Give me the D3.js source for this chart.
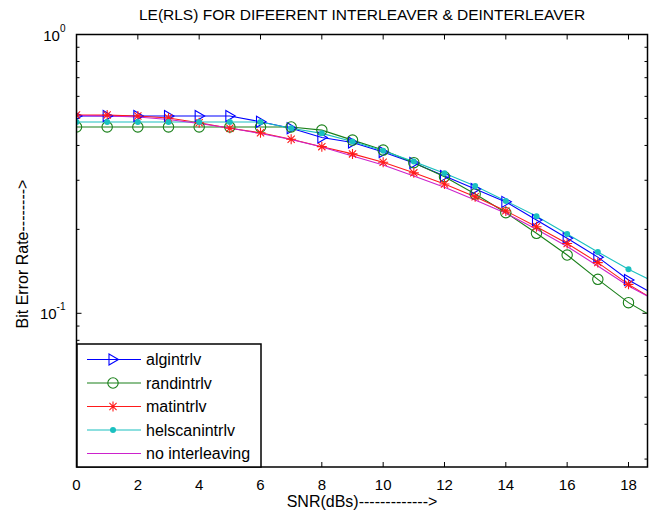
<!DOCTYPE html>
<html>
<head>
<meta charset="utf-8">
<script src="https://cdn.jsdelivr.net/npm/d3@7/dist/d3.min.js"></script>
<style>
  body { margin: 0; background: #fff; }
  text { font-family: "Liberation Sans", Arial, sans-serif; }
</style>
</head>
<body>
<div id="chart"></div>
<script>
(function () {
    var width = 653,
        height = 516;

    // data
    var snr = [0, 1, 2, 3, 4, 5, 6, 7, 8, 9, 10, 11, 12, 13, 14, 15, 16, 17, 18, 19];
    var algintrlv = [0.510, 0.510, 0.510, 0.510, 0.510, 0.510, 0.4865, 0.461, 0.427, 0.410, 0.379, 0.346, 0.311, 0.279, 0.251, 0.216, 0.186, 0.159, 0.1316, 0.1145];
    var randintrlv = [0.466, 0.466, 0.466, 0.466, 0.466, 0.466, 0.466, 0.466, 0.454, 0.418, 0.385, 0.347, 0.309, 0.268, 0.2295, 0.1936, 0.1618, 0.1324, 0.1092, 0.0945];
    var matintrlv = [0.514, 0.514, 0.510, 0.502, 0.4825, 0.461, 0.444, 0.421, 0.396, 0.373, 0.348, 0.319, 0.291, 0.262, 0.233, 0.2045, 0.178, 0.152, 0.127, 0.109];
    var helscanintrlv = [0.4854, 0.4854, 0.4854, 0.4854, 0.4854, 0.4854, 0.4854, 0.461, 0.442, 0.413, 0.383, 0.350, 0.318, 0.286, 0.253, 0.223, 0.1925, 0.166, 0.144, 0.127];
    var nointerleaving = [0.512, 0.510, 0.506, 0.4955, 0.4795, 0.462, 0.4414, 0.4201, 0.3949, 0.3666, 0.3404, 0.3108, 0.283, 0.2549, 0.2284, 0.2001, 0.1737, 0.1478, 0.1253, 0.1096];

    var seriesNames = ["algintrlv", "randintrlv", "matintrlv", "helscanintrlv", "no interleaving"];
    var xTicks = [0, 2, 4, 6, 8, 10, 12, 14, 16, 18];
    var yMajor = [1, 0.1];
    var yMinor = [0.9, 0.8, 0.7, 0.6, 0.5, 0.4, 0.3, 0.2, 0.09, 0.08, 0.07, 0.06, 0.05, 0.04, 0.03];

    var series = [
        {name: seriesNames[0], values: algintrlv, color: "#0000ff", marker: "tri"},
        {name: seriesNames[1], values: randintrlv, color: "#1a801a", marker: "circle"},
        {name: seriesNames[2], values: matintrlv, color: "#ff1a1a", marker: "star"},
        {name: seriesNames[3], values: helscanintrlv, color: "#1ac0c0", marker: "dot"},
        {name: seriesNames[4], values: nointerleaving, color: "#cc22cc", marker: "none"}
    ];

    var margin = {left: 76.5, top: 34.5},
        pw = 571,
        ph = 432.5;

    var x = d3.scaleLinear().domain([0, 18.62]).range([0, pw]);
    var y = d3.scaleLog().domain([0.0281, 1]).range([ph, 0]);

    var svg = d3.select("#chart")
        .append("svg")
        .attr("width", width)
        .attr("height", height);

    svg.append("text")
        .attr("x", margin.left + pw / 2)
        .attr("y", 20)
        .attr("text-anchor", "middle")
        .style("font-size", "15.5px")
        .text("LE(RLS) FOR DIFEERENT INTERLEAVER & DEINTERLEAVER");

    var g = svg.append("g")
        .attr("transform", "translate(" + margin.left + "," + margin.top + ")");

    g.append("defs").append("clipPath")
        .attr("id", "clip")
        .append("rect")
        .attr("width", pw)
        .attr("height", ph);

    // ticks (inside, top/bottom and left/right)
    var tk = 5, tkm = 3;
    xTicks.forEach(function (t) {
        g.append("line").attr("x1", x(t)).attr("x2", x(t)).attr("y1", ph).attr("y2", ph - tk).attr("stroke", "#000");
        g.append("line").attr("x1", x(t)).attr("x2", x(t)).attr("y1", 0).attr("y2", tk).attr("stroke", "#000");
        g.append("text")
            .attr("x", x(t))
            .attr("y", ph + 23)
            .attr("text-anchor", "middle")
            .style("font-size", "15px")
            .text(t);
    });

    yMajor.concat(yMinor).forEach(function (t) {
        var len = yMajor.indexOf(t) >= 0 ? tk : tkm;
        g.append("line").attr("x1", 0).attr("x2", len).attr("y1", y(t)).attr("y2", y(t)).attr("stroke", "#000");
        g.append("line").attr("x1", pw).attr("x2", pw - len).attr("y1", y(t)).attr("y2", y(t)).attr("stroke", "#000");
    });

    yMajor.forEach(function (t) {
        var lbl = g.append("text")
            .attr("x", -11)
            .attr("y", y(t) + 6)
            .attr("text-anchor", "end")
            .style("font-size", "15px");
        lbl.append("tspan").text("10");
        lbl.append("tspan")
            .attr("dy", -9)
            .style("font-size", "10px")
            .text(Math.round(Math.log10(t)));
    });

    // lines
    var line = d3.line()
        .x(function (d, i) { return x(snr[i]); })
        .y(function (d) { return y(d); });

    var plot = g.append("g").attr("clip-path", "url(#clip)");

    series.forEach(function (s) {
        plot.append("path")
            .datum(s.values)
            .attr("d", line)
            .attr("fill", "none")
            .attr("stroke", s.color)
            .attr("stroke-width", 1.1);
    });

    function drawMarker(sel, type, color) {
        if (type === "tri") {
            sel.append("path").attr("d", "M-4,-5.5L5.5,0L-4,5.5Z")
                .attr("fill", "none").attr("stroke", color).attr("stroke-width", 1.1);
        } else if (type === "circle") {
            sel.append("circle").attr("r", 5.2)
                .attr("fill", "none").attr("stroke", color).attr("stroke-width", 1.1);
        } else if (type === "star") {
            sel.append("path").attr("d", "M-5,0L5,0M0,-5L0,5M-3.6,-3.6L3.6,3.6M-3.6,3.6L3.6,-3.6")
                .attr("fill", "none").attr("stroke", color).attr("stroke-width", 1.1);
        } else if (type === "dot") {
            sel.append("circle").attr("r", 3)
                .attr("fill", color).attr("stroke", "none");
        }
    }

    series.forEach(function (s) {
        if (s.marker === "none") return;
        plot.selectAll(".m-" + s.marker)
            .data(s.values)
            .enter().append("g")
            .attr("class", "m-" + s.marker)
            .attr("transform", function (d, i) {
                return "translate(" + x(snr[i]) + "," + y(d) + ")";
            })
            .each(function () { drawMarker(d3.select(this), s.marker, s.color); });
    });

    // axes box
    g.append("rect")
        .attr("width", pw)
        .attr("height", ph)
        .attr("fill", "none")
        .attr("stroke", "#000")
        .attr("stroke-width", 1.5);

    // legend
    var lg = svg.append("g").attr("transform", "translate(77,344)");
    lg.append("rect")
        .attr("width", 184)
        .attr("height", 123)
        .attr("fill", "#fff")
        .attr("stroke", "#000")
        .attr("stroke-width", 1.5);

    series.forEach(function (s, i) {
        var row = lg.append("g").attr("transform", "translate(0," + (15.5 + i * 23.5) + ")");
        row.append("line")
            .attr("x1", 10).attr("x2", 64)
            .attr("stroke", s.color).attr("stroke-width", 1.1);
        drawMarker(row.append("g").attr("transform", "translate(36,0)"), s.marker, s.color);
        row.append("text")
            .attr("x", 69)
            .attr("y", 5.5)
            .style("font-size", "16px")
            .text(s.name);
    });

    // axis labels
    svg.append("text")
        .attr("x", margin.left + pw / 2)
        .attr("y", 507)
        .attr("text-anchor", "middle")
        .style("font-size", "16px")
        .text("SNR(dBs)------------->");

    svg.append("text")
        .attr("transform", "translate(28," + 254 + ") rotate(-90)")
        .attr("text-anchor", "middle")
        .style("font-size", "16px")
        .text("Bit Error Rate-------->");
})();
</script>
</body>
</html>
